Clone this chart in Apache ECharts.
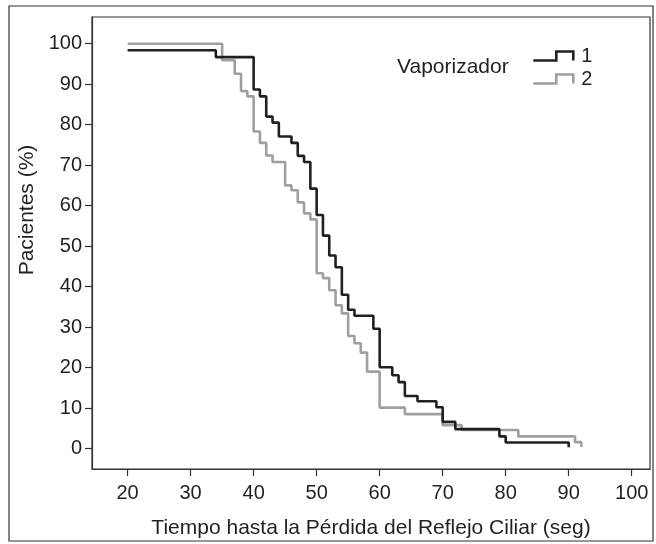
<!DOCTYPE html>
<html>
<head>
<meta charset="utf-8">
<script src="https://cdn.jsdelivr.net/npm/echarts@6/dist/echarts.min.js"></script>
<style>
  html, body { margin: 0; padding: 0; background: #fff; }
  #main { width: 656px; height: 544px; }
</style>
</head>
<body>
<div id="main"></div>
<script>
// Vaporizador 1 (negro) - tiempo (seg) y % de pacientes
var tiempo_1 = [20, 34, 40, 41, 42, 43, 44, 46, 47, 48, 49, 50, 51, 52, 53, 54, 55, 56, 59, 60, 62, 63, 64, 66, 69, 70, 72, 79, 80, 90];
var pac_1    = [98.4, 96.7, 88.7, 87.0, 82.0, 80.5, 77.1, 75.5, 72.3, 70.8, 64.2, 57.7, 52.6, 47.7, 44.8, 38.0, 34.3, 32.8, 29.6, 20.1, 18.1, 16.4, 13.0, 11.7, 10.2, 6.6, 4.8, 3.0, 1.5, 0.3];

// Vaporizador 2 (gris)
var tiempo_2 = [20, 35, 37, 38, 39, 40, 41, 42, 43, 45, 46, 47, 48, 49, 50, 51, 52, 53, 54, 55, 56, 57, 58, 60, 64, 70, 73, 82, 91, 92];
var pac_2    = [100, 95.9, 92.6, 88.3, 87.0, 78.3, 75.5, 72.4, 70.8, 65.0, 63.8, 60.8, 58.1, 56.6, 43.3, 42.1, 39.1, 35.4, 33.4, 27.8, 26.0, 23.7, 19.0, 10.1, 8.5, 5.8, 4.6, 3.0, 1.6, 0.4];

var xTicks = [20, 30, 40, 50, 60, 70, 80, 90, 100];
var yTicks = [0, 10, 20, 30, 40, 50, 60, 70, 80, 90, 100];

var grupos = ['1', '2'];

var txtColor = '#231f20';
var ejeColor = '#333333';
var fuente = 'Liberation Sans, Arial, sans-serif';

function pares(xs, ys) {
    var out = [];
    for (var i = 0; i < xs.length; i++) out.push([xs[i], ys[i]]);
    return out;
}

var myChart = echarts.init(document.getElementById('main'));

var option = {
    backgroundColor: '#ffffff',
    animation: false,
    textStyle: { fontFamily: fuente, color: txtColor },
    grid: {
        left: 92,
        right: 6,
        top: 17,
        bottom: 71,
        show: true,
        borderColor: ejeColor,
        borderWidth: 1.2
    },
    graphic: [
        {
            type: 'rect',
            shape: { x: 9, y: 6, width: 644, height: 535 },
            style: { fill: 'none', stroke: ejeColor, lineWidth: 1.2 },
            silent: true
        },
        {
            type: 'text',
            left: 397,
            top: 57,
            style: { text: 'Vaporizador', font: '21px ' + fuente, fill: txtColor }
        },
        {
            type: 'text',
            x: 27,
            y: 210,
            rotation: Math.PI / 2,
            style: {
                text: 'Pacientes (%)',
                font: '21px ' + fuente,
                fill: txtColor,
                align: 'center',
                verticalAlign: 'middle'
            }
        }
    ],
    legend: {
        orient: 'vertical',
        left: 527,
        top: 41,
        itemWidth: 40,
        itemHeight: 9,
        itemGap: 3,
        icon: 'path://M0,9L23,9L23,0L40,0L40,9',
        selectedMode: false,
        textStyle: { fontSize: 20, color: txtColor, fontFamily: fuente, padding: [0, 0, 0, 3] },
        data: [
            { name: grupos[0], itemStyle: { color: 'transparent', borderColor: '#231f20', borderWidth: 2.6 } },
            { name: grupos[1], itemStyle: { color: 'transparent', borderColor: '#9d9fa2', borderWidth: 2.6 } }
        ]
    },
    xAxis: {
        type: 'value',
        min: 14.35,
        max: 102.9,
        name: 'Tiempo hasta la Pérdida del Reflejo Ciliar (seg)',
        nameLocation: 'middle',
        nameGap: 49,
        nameTextStyle: { fontSize: 21, color: txtColor, fontFamily: fuente },
        axisLine: { show: true, onZero: false, lineStyle: { color: ejeColor, width: 1.2 } },
        axisTick: { show: true, length: 7, customValues: xTicks, lineStyle: { color: ejeColor, width: 1.2 } },
        axisLabel: { customValues: xTicks, margin: 14, fontSize: 20, color: txtColor, fontFamily: fuente },
        splitLine: { show: false }
    },
    yAxis: {
        type: 'value',
        min: -5.05,
        max: 106.6,
        axisLine: { show: true, onZero: false, lineStyle: { color: ejeColor, width: 1.2 } },
        axisTick: { show: true, length: 7, customValues: yTicks, lineStyle: { color: ejeColor, width: 1.2 } },
        axisLabel: { customValues: yTicks, margin: 10, fontSize: 20, color: txtColor, fontFamily: fuente },
        splitLine: { show: false }
    },
    series: [
        {
            name: grupos[0],
            type: 'line',
            step: 'end',
            symbol: 'none',
            z: 3,
            lineStyle: { color: '#231f20', width: 2.6 },
            itemStyle: { color: '#231f20' },
            data: pares(tiempo_1, pac_1)
        },
        {
            name: grupos[1],
            type: 'line',
            step: 'end',
            symbol: 'none',
            z: 2,
            lineStyle: { color: '#9d9fa2', width: 2.6 },
            itemStyle: { color: '#9d9fa2' },
            data: pares(tiempo_2, pac_2)
        }
    ]
};

myChart.setOption(option);
</script>
</body>
</html>
